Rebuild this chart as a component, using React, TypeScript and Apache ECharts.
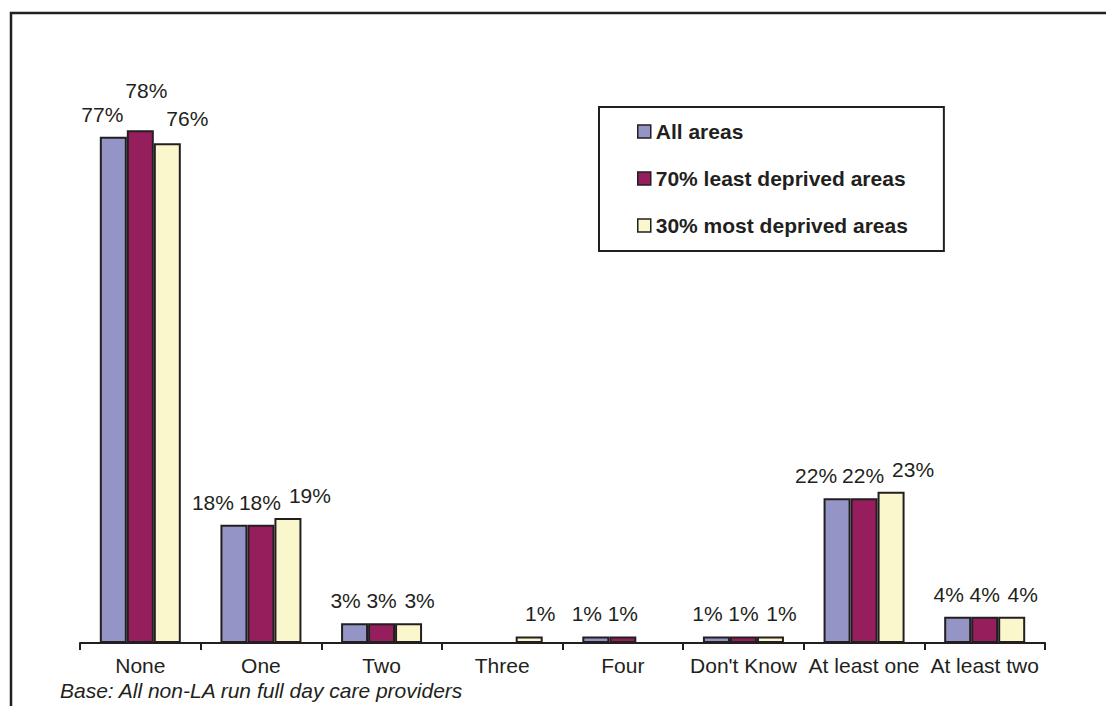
import React, { useEffect, useRef } from "react";
import * as echarts from "echarts";

const categories = ["None", "One", "Two", "Three", "Four", "Don't Know", "At least one", "At least two"];
const seriesNames = ["All areas", "70% least deprived areas", "30% most deprived areas"];
const allAreas = [77, 18, 3, null, 1, 1, 22, 4];
const leastDeprived = [78, 18, 3, null, 1, 1, 22, 4];
const mostDeprived = [76, 19, 3, 1, null, 1, 23, 4];
const baseNote = "Base: All non-LA run full day care providers";

const colors = ["#9494c6", "#961e5c", "#faf7cd"];
const ink = "#231f20";
const font = "'Liberation Sans', Arial, sans-serif";

export default function App() {
  const ref = useRef<HTMLDivElement>(null);

  useEffect(() => {
    if (!ref.current) return;
    const chart = echarts.init(ref.current, null, { renderer: "svg" });
    const values = [allAreas, leastDeprived, mostDeprived];

    // labels are pushed apart horizontally like in the original
    const spreadBig = [-21, -1, 22];
    const spreadSmall = [-9, 0, 11];
    const noneNudge = [
      [-11, 0],
      [6, -17],
      [20, -2],
    ];

    const series = values.map((arr, i) => ({
      type: "bar",
      name: seriesNames[i],
      barWidth: 27,
      barGap: "0%",
      itemStyle: { color: colors[i], borderColor: ink, borderWidth: 2 },
      label: {
        show: true,
        position: "top",
        distance: 12,
        formatter: "{c}%",
        fontFamily: font,
        fontSize: 21,
        color: ink,
      },
      data: arr.map((v, j) => {
        if (v == null) return null;
        let off = [(v >= 10 ? spreadBig : spreadSmall)[i], 0];
        if (j === 0) off = noneNudge[i];
        return { value: v, label: { offset: off } };
      }),
    }));

    chart.setOption({
      animation: false,
      backgroundColor: "#ffffff",
      grid: { left: 80, right: 61, top: 117, bottom: 63 },
      legend: {
        orient: "vertical",
        left: 599,
        top: 107,
        padding: [14, 36, 15, 38],
        borderColor: ink,
        borderWidth: 2,
        itemWidth: 13,
        itemHeight: 13,
        itemGap: 26,
        icon: "rect",
        itemStyle: { borderColor: ink, borderWidth: 1.5 },
        textStyle: { fontFamily: font, fontSize: 21, fontWeight: "bold", color: ink, lineHeight: 21 },
        data: seriesNames,
      },
      xAxis: {
        type: "category",
        data: categories,
        axisLine: { lineStyle: { color: ink, width: 2 } },
        axisTick: { show: true, length: 7, lineStyle: { color: ink, width: 2 } },
        axisLabel: { fontFamily: font, fontSize: 21, color: ink, margin: 12, interval: 0 },
      },
      yAxis: {
        type: "value",
        min: 0,
        max: 80,
        show: false,
        splitLine: { show: false },
      },
      graphic: [
        {
          type: "rect",
          shape: { x: 11, y: 13, width: 1110, height: 720 },
          style: { fill: "none", stroke: ink, lineWidth: 2.5 },
          silent: true,
        },
        {
          type: "text",
          left: 60,
          top: 680,
          style: {
            text: baseNote,
            fontFamily: font,
            fontSize: 21,
            fontStyle: "italic",
            fill: ink,
          },
        },
      ],
      series,
    });

    return () => chart.dispose();
  }, []);

  return (
    <div
      ref={ref}
      style={{ position: "absolute", left: 0, top: 0, width: 1106, height: 706, background: "#fff" }}
    />
  );
}
